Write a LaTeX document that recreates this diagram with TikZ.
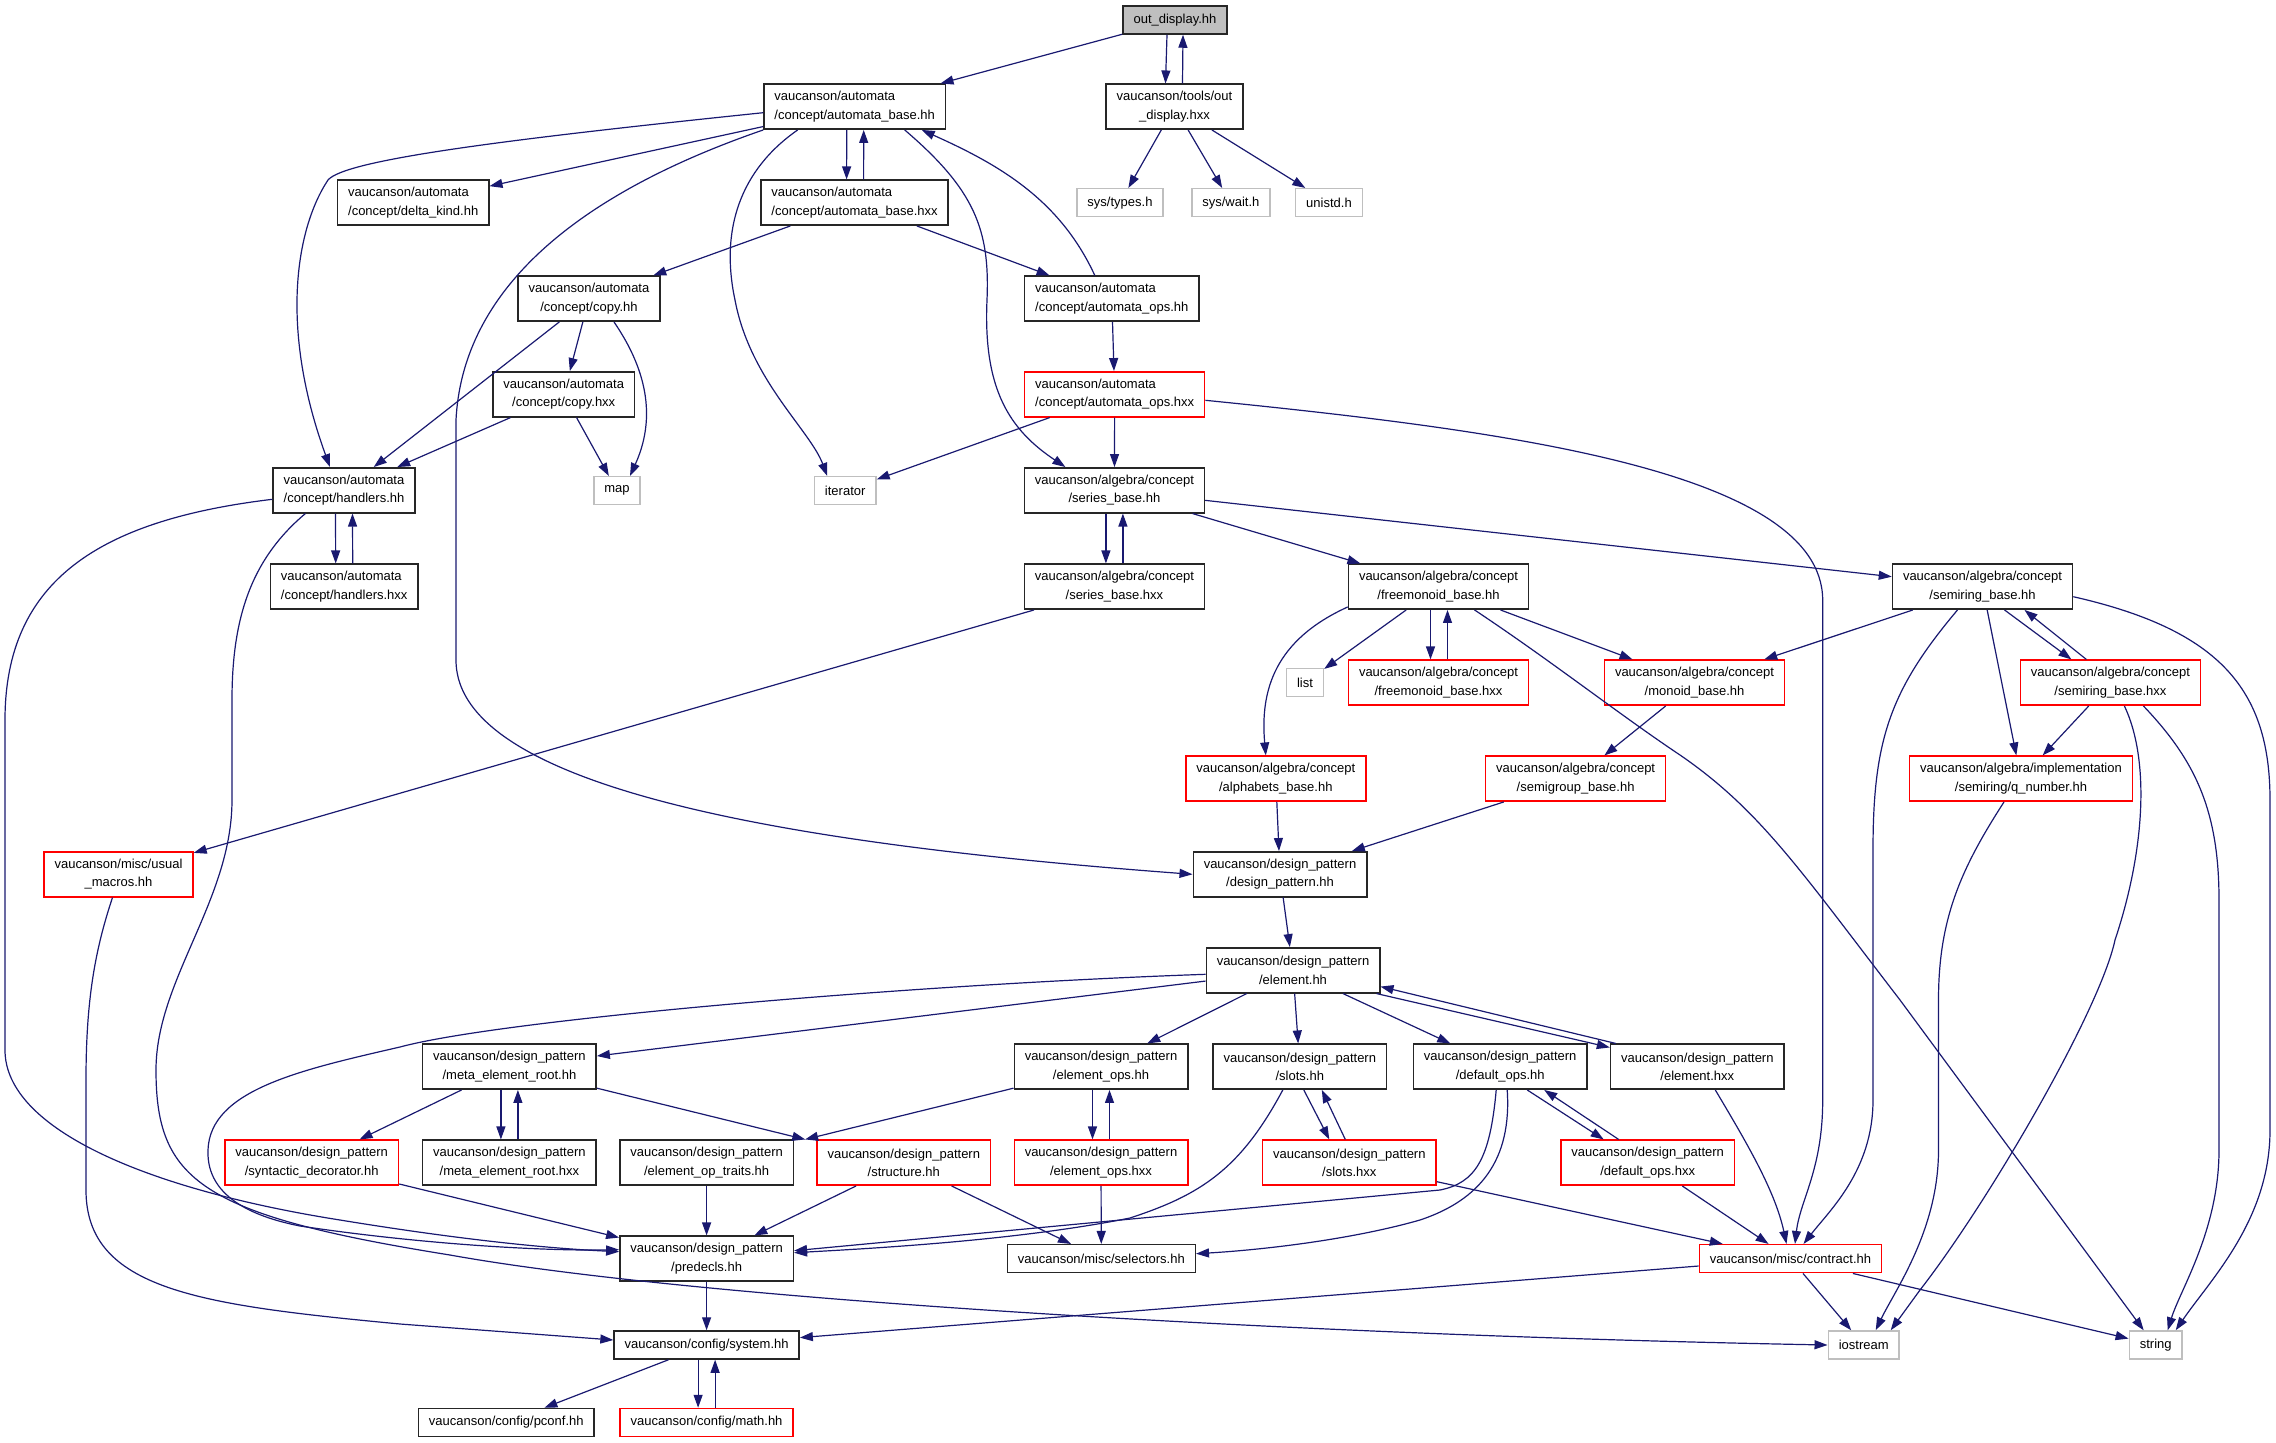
\documentclass[tikz,border=0pt]{standalone}
\usepackage{fontspec}
\setmainfont{Liberation Sans}
\usetikzlibrary{arrows.meta}
\definecolor{edgeblue}{RGB}{25,25,112}

\begin{document}
\begin{tikzpicture}[x=1pt,y=-1pt,>={Triangle[length=13pt,width=9pt]},font=\fontsize{13pt}{18.3pt}\selectfont]
        \tikzstyle{header}=[rectangle,draw=black!85,line width=1.5pt,fill=white,align=center,inner xsep=10.5pt,inner ysep=0pt,minimum height=45pt]
        \tikzstyle{redheader}=[header,draw=red]
        \tikzstyle{sysheader}=[header,draw=lightgray,minimum height=28pt]
        \tikzstyle{oneline}=[minimum height=28pt]
        \tikzstyle{link}=[->,draw=edgeblue,line width=1.2pt]
        \useasboundingbox (0,0) rectangle (2276,1443);
        \node[header,oneline,fill=gray!50] (out_display_hh) at (1175,20) {out\_display.hh};
        \node[header,align=left] (automata_base_hh) at (854.7,106.7) {vaucanson/automata\\/concept/automata\_base.hh};
        \node[header] (out_display_hxx) at (1174.5,106.7) {vaucanson/tools/out\\\_display.hxx};
        \node[header,align=left] (delta_kind_hh) at (413.2,202.7) {vaucanson/automata\\/concept/delta\_kind.hh};
        \node[header,align=left] (automata_base_hxx) at (854.6,202.7) {vaucanson/automata\\/concept/automata\_base.hxx};
        \node[sysheader] (types_h) at (1120,202.7) {sys/types.h};
        \node[sysheader] (wait_h) at (1230.8,202.7) {sys/wait.h};
        \node[sysheader] (unistd_h) at (1329,202.7) {unistd.h};
        \node[header] (copy_hh) at (589,298.7) {vaucanson/automata\\/concept/copy.hh};
        \node[header,align=left] (automata_ops_hh) at (1111.8,298.7) {vaucanson/automata\\/concept/automata\_ops.hh};
        \node[header] (copy_hxx) at (563.7,394.3) {vaucanson/automata\\/concept/copy.hxx};
        \node[redheader,align=left] (automata_ops_hxx) at (1114.7,394.3) {vaucanson/automata\\/concept/automata\_ops.hxx};
        \node[header,align=left] (handlers_hh) at (344,490.3) {vaucanson/automata\\/concept/handlers.hh};
        \node[sysheader] (map_h) at (617,490.7) {map};
        \node[sysheader] (iterator_h) at (845.2,490.7) {iterator};
        \node[header] (series_base_hh) at (1114.4,490.3) {vaucanson/algebra/concept\\/series\_base.hh};
        \node[header,align=left] (handlers_hxx) at (344.2,586.7) {vaucanson/automata\\/concept/handlers.hxx};
        \node[header] (series_base_hxx) at (1114.4,586.7) {vaucanson/algebra/concept\\/series\_base.hxx};
        \node[header] (freemonoid_base_hh) at (1438.5,586.7) {vaucanson/algebra/concept\\/freemonoid\_base.hh};
        \node[header] (semiring_base_hh) at (1982.5,586.7) {vaucanson/algebra/concept\\/semiring\_base.hh};
        \node[sysheader] (list_h) at (1305,682.7) {list};
        \node[redheader] (freemonoid_base_hxx) at (1438.5,682.7) {vaucanson/algebra/concept\\/freemonoid\_base.hxx};
        \node[redheader] (monoid_base_hh) at (1694.5,682.7) {vaucanson/algebra/concept\\/monoid\_base.hh};
        \node[redheader] (semiring_base_hxx) at (2110.4,682.7) {vaucanson/algebra/concept\\/semiring\_base.hxx};
        \node[redheader] (alphabets_base_hh) at (1275.8,778.7) {vaucanson/algebra/concept\\/alphabets\_base.hh};
        \node[redheader] (semigroup_base_hh) at (1575.6,778.7) {vaucanson/algebra/concept\\/semigroup\_base.hh};
        \node[redheader] (q_number_hh) at (2021,778.7) {vaucanson/algebra/implementation\\/semiring/q\_number.hh};
        \node[redheader] (usual_macros_hh) at (118.5,874.3) {vaucanson/misc/usual\\\_macros.hh};
        \node[header] (design_pattern_hh) at (1280,874.3) {vaucanson/design\_pattern\\/design\_pattern.hh};
        \node[header] (element_hh) at (1293,970.3) {vaucanson/design\_pattern\\/element.hh};
        \node[header] (meta_element_root_hh) at (509.4,1066.7) {vaucanson/design\_pattern\\/meta\_element\_root.hh};
        \node[header] (element_ops_hh) at (1101,1066.7) {vaucanson/design\_pattern\\/element\_ops.hh};
        \node[header] (slots_hh) at (1299.8,1066.7) {vaucanson/design\_pattern\\/slots.hh};
        \node[header] (default_ops_hh) at (1500.2,1066.7) {vaucanson/design\_pattern\\/default\_ops.hh};
        \node[header] (element_hxx) at (1697.3,1066.7) {vaucanson/design\_pattern\\/element.hxx};
        \node[redheader] (syntactic_decorator_hh) at (311.7,1162.7) {vaucanson/design\_pattern\\/syntactic\_decorator.hh};
        \node[header] (meta_element_root_hxx) at (509.4,1162.7) {vaucanson/design\_pattern\\/meta\_element\_root.hxx};
        \node[header] (element_op_traits_hh) at (706.6,1162.7) {vaucanson/design\_pattern\\/element\_op\_traits.hh};
        \node[redheader] (structure_hh) at (903.8,1162.7) {vaucanson/design\_pattern\\/structure.hh};
        \node[redheader] (element_ops_hxx) at (1101,1162.7) {vaucanson/design\_pattern\\/element\_ops.hxx};
        \node[redheader] (slots_hxx) at (1349.3,1162.7) {vaucanson/design\_pattern\\/slots.hxx};
        \node[redheader] (default_ops_hxx) at (1647.7,1162.7) {vaucanson/design\_pattern\\/default\_ops.hxx};
        \node[header] (predecls_hh) at (706.6,1258.7) {vaucanson/design\_pattern\\/predecls.hh};
        \node[header,oneline] (selectors_hh) at (1101.3,1258.7) {vaucanson/misc/selectors.hh};
        \node[redheader,oneline] (contract_hh) at (1790.5,1258.7) {vaucanson/misc/contract.hh};
        \node[header,oneline] (system_hh) at (706.6,1345) {vaucanson/config/system.hh};
        \node[sysheader] (iostream_h) at (1863.7,1345) {iostream};
        \node[sysheader] (string_h) at (2155.7,1345) {string};
        \node[header,oneline] (pconf_hh) at (506.3,1422.5) {vaucanson/config/pconf.hh};
        \node[redheader,oneline] (math_hh) at (706.6,1422.5) {vaucanson/config/math.hh};
        \draw[link] (out_display_hh) -- (automata_base_hh);
        \draw[link] ([xshift=-8pt]out_display_hh.south) -- ([xshift=-9pt]out_display_hxx.north);
        \draw[link] ([xshift=8pt]out_display_hxx.north) -- ([xshift=8pt]out_display_hh.south);
        \draw[link] (out_display_hxx) -- (types_h);
        \draw[link] (out_display_hxx) -- (wait_h);
        \draw[link] (out_display_hxx) -- (unistd_h);
        \draw[link] ([yshift=-6pt]automata_base_hh.west) .. controls (500,140) and (345,160) .. (328,180) .. controls (295,230) and (280,330) .. ([xshift=-14pt]handlers_hh.north);
        \draw[link] (automata_base_hh) -- (delta_kind_hh);
        \draw[link] (automata_base_hh.south west) .. controls (560,200) and (462,300) .. (456,420) -- (456,660) .. controls (456,790) and (800,845) .. (design_pattern_hh.west);
        \draw[link] ([xshift=-57pt]automata_base_hh.south) .. controls (740,170) and (720,230) .. (735,300) .. controls (750,380) and (810,430) .. ([xshift=-18pt]iterator_h.north);
        \draw[link] ([xshift=-8pt]automata_base_hh.south) -- ([xshift=-8pt]automata_base_hxx.north);
        \draw[link] ([xshift=9pt]automata_base_hxx.north) -- ([xshift=9pt]automata_base_hh.south);
        \draw[link] ([xshift=50pt]automata_base_hh.south) .. controls (975,190) and (990,230) .. (987,300) .. controls (983,390) and (1010,430) .. ([xshift=-49pt]series_base_hh.north);
        \draw[link] (automata_base_hxx) -- (copy_hh);
        \draw[link] (automata_base_hxx) -- (automata_ops_hh);
        \draw[link] ([xshift=-17pt]automata_ops_hh.north) .. controls (1060,200) and (1000,165) .. ([xshift=67pt]automata_base_hh.south);
        \draw[link] (automata_ops_hh) -- (automata_ops_hxx);
        \draw[link] (automata_ops_hxx) -- (iterator_h);
        \draw[link] (automata_ops_hxx) -- (series_base_hh);
        \draw[link] ([yshift=-6pt]automata_ops_hxx.east) .. controls (1500,430) and (1822,470) .. (1822.7,600) -- (1822.7,1100) .. controls (1822.7,1170) and (1800,1200) .. ([xshift=4.5pt]contract_hh.north);
        \draw[link] (copy_hh) -- (handlers_hh);
        \draw[link] (copy_hh) -- (copy_hxx);
        \draw[link] ([xshift=25pt]copy_hh.south) .. controls (640,360) and (660,410) .. ([xshift=13pt]map_h.north);
        \draw[link] (copy_hxx) -- (handlers_hh);
        \draw[link] (copy_hxx) -- (map_h);
        \draw[link] ([xshift=-8.5pt]handlers_hh.south) -- ([xshift=-8.5pt]handlers_hxx.north);
        \draw[link] ([xshift=8.5pt]handlers_hxx.north) -- ([xshift=8.5pt]handlers_hh.south);
        \draw[link] ([yshift=-9pt]handlers_hh.west) .. controls (100,520) and (5,580) .. (5,720) -- (5,1050) .. controls (5,1130) and (150,1190) .. (340,1220) .. controls (450,1238) and (540,1248) .. ([yshift=7pt]predecls_hh.west);
        \draw[link] ([xshift=-38.6pt]handlers_hh.south) .. controls (250,560) and (232,620) .. (232,700) -- (232,800) .. controls (232,900) and (156,980) .. (156,1070) .. controls (156,1180) and (200,1215) .. (450,1255) .. controls (700,1300) and (1300,1335) .. (iostream_h.west);
        \draw[link] ([xshift=-6pt]usual_macros_hh.south) .. controls (95,950) and (86,1000) .. (86,1080) -- (86,1190) .. controls (86,1290) and (200,1305) .. (400,1324) -- ([yshift=5pt]system_hh.west);
        \draw[link] ([xshift=-8.5pt]series_base_hh.south) -- ([xshift=-8.5pt]series_base_hxx.north);
        \draw[link] ([xshift=8.5pt]series_base_hxx.north) -- ([xshift=8.5pt]series_base_hh.south);
        \draw[link] (series_base_hh) -- (freemonoid_base_hh);
        \draw[link] (series_base_hh) -- (semiring_base_hh);
        \draw[link] (series_base_hxx) -- (usual_macros_hh);
        \draw[link] (freemonoid_base_hh) -- (list_h);
        \draw[link] ([xshift=-8pt]freemonoid_base_hh.south) -- ([xshift=-8pt]freemonoid_base_hxx.north);
        \draw[link] ([xshift=9pt]freemonoid_base_hxx.north) -- ([xshift=9pt]freemonoid_base_hh.south);
        \draw[link] (freemonoid_base_hh) -- (monoid_base_hh);
        \draw[link] ([yshift=3pt]freemonoid_base_hh.south west) .. controls (1275,640) and (1260,690) .. ([xshift=-10pt]alphabets_base_hh.north);
        \draw[link] ([xshift=36pt]freemonoid_base_hh.south) .. controls (1550,660) and (1620,715) .. (1680,755) .. controls (1760,810) and (1800,870) .. (1900,1000) -- ([xshift=-12pt]string_h.north);
        \draw[link] (semiring_base_hh) -- (monoid_base_hh);
        \draw[link] ([xshift=-25pt]semiring_base_hh.south) .. controls (1890,690) and (1873,740) .. (1873,850) -- (1873,1100) .. controls (1873,1170) and (1830,1210) .. ([xshift=13pt]contract_hh.north);
        \draw[link] (semiring_base_hh) -- (q_number_hh);
        \draw[link] ([xshift=22pt]semiring_base_hh.south) -- ([xshift=-39pt]semiring_base_hxx.north);
        \draw[link] ([xshift=-24pt]semiring_base_hxx.north) -- ([xshift=42pt]semiring_base_hh.south);
        \draw[link] ([yshift=-10pt]semiring_base_hh.east) .. controls (2220,630) and (2270,690) .. (2270,800) -- (2270,1130) .. controls (2270,1220) and (2210,1280) .. ([xshift=20pt]string_h.north);
        \draw[link] (semiring_base_hxx) -- (q_number_hh);
        \draw[link] ([xshift=14pt]semiring_base_hxx.south) .. controls (2150,760) and (2145,850) .. (2115,940) .. controls (2100,1010) and (1990,1200) .. (1920,1290) -- ([xshift=27pt]iostream_h.north);
        \draw[link] ([xshift=33pt]semiring_base_hxx.south) .. controls (2195,760) and (2219,810) .. (2219,900) -- (2219,1150) .. controls (2219,1230) and (2180,1290) .. ([xshift=12pt]string_h.north);
        \draw[link] (monoid_base_hh) -- (semigroup_base_hh);
        \draw[link] (alphabets_base_hh) -- (design_pattern_hh);
        \draw[link] (semigroup_base_hh) -- (design_pattern_hh);
        \draw[link] ([xshift=-17pt]q_number_hh.south) .. controls (1960,870) and (1938.5,920) .. (1938.5,1000) -- (1938.5,1150) .. controls (1938.5,1230) and (1895,1290) .. ([xshift=12pt]iostream_h.north);
        \draw[link] (design_pattern_hh) -- (element_hh);
        \draw[link] ([yshift=-4pt]element_hh.west) .. controls (900,985) and (500,1020) .. (400,1047) .. controls (300,1070) and (210,1090) .. (208,1150) .. controls (206,1200) and (260,1218) .. (300,1226) .. controls (420,1244) and (540,1251) .. ([yshift=9pt]predecls_hh.west);
        \draw[link] (element_hh) -- (meta_element_root_hh);
        \draw[link] (element_hh) -- (element_ops_hh);
        \draw[link] (element_hh) -- (slots_hh);
        \draw[link] (element_hh) -- (default_ops_hh);
        \draw[link] ([xshift=-4pt]element_hh.south east) -- ([yshift=-4pt]element_hxx.north west);
        \draw[link] ([xshift=6pt]element_hxx.north west) -- ([yshift=7pt]element_hh.south east);
        \draw[link] (meta_element_root_hh) -- (syntactic_decorator_hh);
        \draw[link] ([xshift=-8.5pt]meta_element_root_hh.south) -- ([xshift=-8.5pt]meta_element_root_hxx.north);
        \draw[link] ([xshift=8.5pt]meta_element_root_hxx.north) -- ([xshift=8.5pt]meta_element_root_hh.south);
        \draw[link] (meta_element_root_hh) -- ([xshift=-11pt]structure_hh.north west);
        \draw[link] (element_ops_hh) -- ([xshift=11pt]element_op_traits_hh.north east);
        \draw[link] ([xshift=-8.5pt]element_ops_hh.south) -- ([xshift=-8.5pt]element_ops_hxx.north);
        \draw[link] ([xshift=8.5pt]element_ops_hxx.north) -- ([xshift=8.5pt]element_ops_hh.south);
        \draw[link] ([xshift=-17pt]slots_hh.south) .. controls (1240,1170) and (1200,1195) .. (1130,1218) .. controls (1020,1240) and (880,1248) .. ([yshift=6pt]predecls_hh.east);
        \draw[link] ([xshift=4pt]slots_hh.south) -- ([xshift=-20pt]slots_hxx.north);
        \draw[link] ([xshift=-4pt]slots_hxx.north) -- ([xshift=22pt]slots_hh.south);
        \draw[link] ([xshift=-4pt]default_ops_hh.south) .. controls (1490,1160) and (1475,1183) .. (1440,1190) -- ([yshift=8pt]predecls_hh.east);
        \draw[link] ([xshift=7pt]default_ops_hh.south) .. controls (1512,1160) and (1480,1200) .. (1420,1220) .. controls (1350,1240) and (1260,1250) .. ([yshift=5pt]selectors_hh.east);
        \draw[link] ([xshift=27pt]default_ops_hh.south) -- ([xshift=-44pt]default_ops_hxx.north);
        \draw[link] ([xshift=-29pt]default_ops_hxx.north) -- ([xshift=44pt]default_ops_hh.south);
        \draw[link] (syntactic_decorator_hh) -- (predecls_hh);
        \draw[link] (element_op_traits_hh) -- (predecls_hh);
        \draw[link] (structure_hh) -- (predecls_hh);
        \draw[link] (structure_hh) -- (selectors_hh);
        \draw[link] (element_ops_hxx) -- (selectors_hh);
        \draw[link] (slots_hxx) -- (contract_hh);
        \draw[link] (default_ops_hxx) -- (contract_hh);
        \draw[link] ([xshift=18pt]element_hxx.south) .. controls (1745,1140) and (1775,1190) .. ([xshift=-4pt]contract_hh.north);
        \draw[link] (contract_hh) -- (system_hh);
        \draw[link] (contract_hh) -- (iostream_h);
        \draw[link] (contract_hh) -- (string_h);
        \draw[link] (predecls_hh) -- (system_hh);
        \draw[link] (system_hh) -- (pconf_hh);
        \draw[link] ([xshift=-8.5pt]system_hh.south) -- ([xshift=-8.5pt]math_hh.north);
        \draw[link] ([xshift=8.5pt]math_hh.north) -- ([xshift=8.5pt]system_hh.south);
    \end{tikzpicture}
\end{document}
